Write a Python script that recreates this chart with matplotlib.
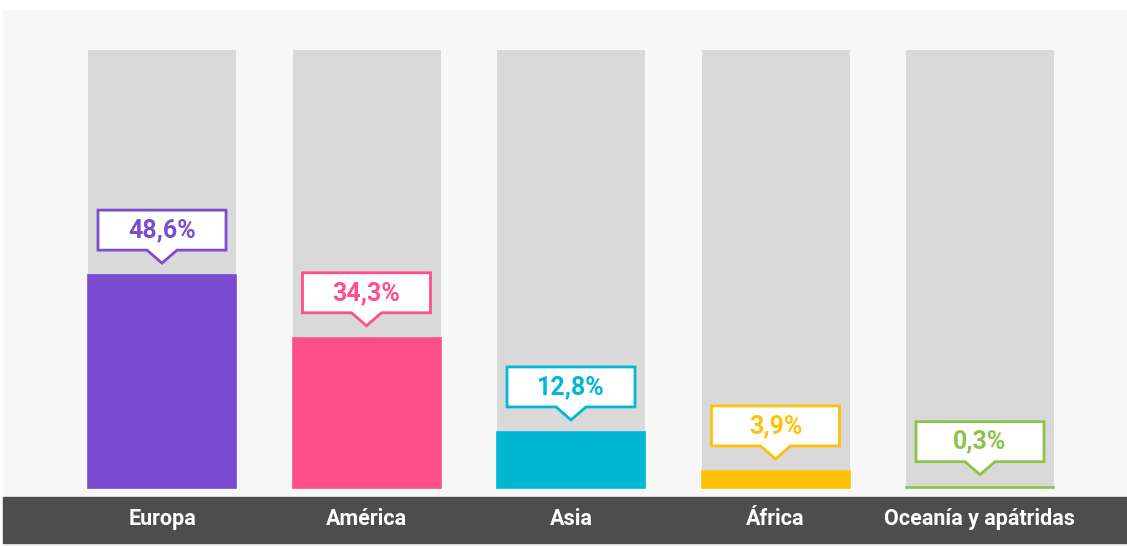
import matplotlib
matplotlib.use("Agg")
import matplotlib.pyplot as plt
from matplotlib.patches import Rectangle, Polygon
from matplotlib.transforms import ScaledTranslation

# datos
regiones = ["Europa", "América", "Asia", "África", "Oceanía y apátridas"]
valores = [48.6, 34.3, 12.8, 3.9, 0.3]
etiquetas = ["48,6%", "34,3%", "12,8%", "3,9%", "0,3%"]
colores = ["#7b4bd1", "#ff4f8b", "#00b8d4", "#ffc107", "#8bc34a"]
fondo_max = 100

W, H = 1127, 546
fig = plt.figure(figsize=(W / 100, H / 100), dpi=100)
fig.patch.set_facecolor("white")

fuente = ["Roboto", "DejaVu Sans"]

# panel gris claro y franja oscura
fig.patches.append(Rectangle((3 / W, 0), 1 - 3 / W, 1 - 10 / H,
                             transform=fig.transFigure, color="#f7f7f7", zorder=0))
fig.patches.append(Rectangle((3 / W, (H - 543) / H), 1 - 3 / W, 46 / H,
                             transform=fig.transFigure, color="#4d4d4d", zorder=1))

# ejes: y=0 en px 488, y=100 en px 50
paso = 204.5
x0 = 162
ax = fig.add_axes([3 / W, (H - 488) / H, 1 - 3 / W, 438 / H])
ax.set_zorder(3)
ax.set_xlim(-(x0 - 3) / paso, (W - x0) / paso)
ax.set_ylim(0, 100)
ax.axis("off")
ax.patch.set_alpha(0)

xs = list(range(len(regiones)))
ancho = 148 / paso
ax.bar(xs, [fondo_max] * len(xs), width=ancho, color="#d9d9d9", zorder=1)
barras = ax.bar(xs, valores, width=ancho, color=colores, edgecolor=colores,
                linewidth=1.2, zorder=2)
for b in barras:
    b.set_clip_on(False)

# globos con el valor (desplazamientos en px, 1 px = 0.01 in)
for x, v, txt, c in zip(xs, valores, etiquetas, colores):
    tr = fig.dpi_scale_trans + ScaledTranslation(x, v, ax.transData)
    punta = 12
    base = punta + 13
    arriba = base + 40
    verts = [(-0.64, arriba / 100), (0.64, arriba / 100), (0.64, base / 100),
             (0.15, base / 100), (0, punta / 100), (-0.15, base / 100),
             (-0.64, base / 100)]
    ax.add_patch(Polygon(verts, closed=True, transform=tr, facecolor="white",
                         edgecolor=c, linewidth=2, zorder=3, joinstyle="miter",
                         clip_on=False))
    ax.text(0, (base + 20) / 100, txt, transform=tr, ha="center", va="center",
            color=c, fontsize=18, fontweight="bold", family=fuente, zorder=4)

# nombres en la franja
for x, r in zip(xs, regiones):
    px = x0 + x * paso
    fig.text(px / W, (H - 519) / H, r, ha="center", va="center", color="white",
             fontsize=15.5, fontweight="bold", family=fuente, zorder=5)

fig.savefig("out.png", dpi=100)
